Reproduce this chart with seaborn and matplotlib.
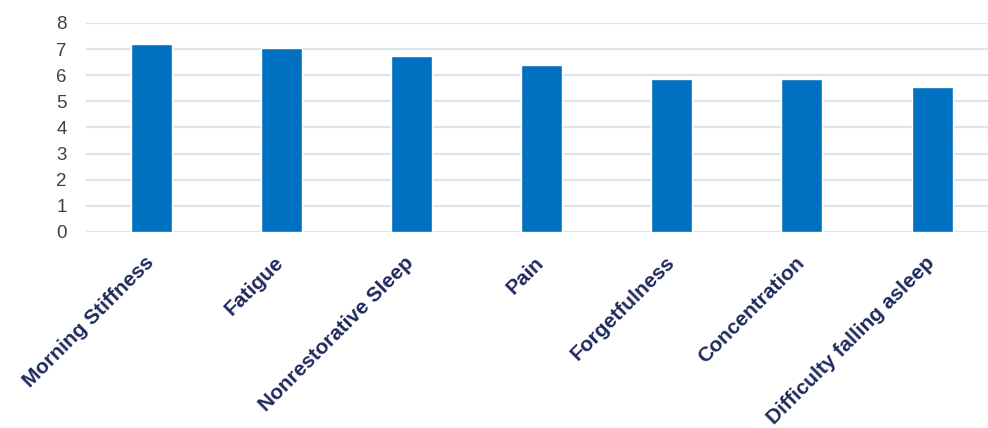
import matplotlib
matplotlib.use("Agg")
import matplotlib.pyplot as plt
import matplotlib.transforms as mtransforms
import seaborn as sns
import pandas as pd

# Symptom severity scores
symptoms = [
    "Morning Stiffness",
    "Fatigue",
    "Nonrestorative Sleep",
    "Pain",
    "Forgetfulness",
    "Concentration",
    "Difficulty falling asleep",
]
scores = [7.2, 7.05, 6.75, 6.38, 5.85, 5.85, 5.55]
y_ticks = [0, 1, 2, 3, 4, 5, 6, 7, 8]

bar_color = "#0070c0"
grid_color = "#dde5ec"
label_color = "#1f2a5c"
tick_color = "#404040"


def generate_figure():
    df = pd.DataFrame({"Symptom": symptoms, "Score": scores})

    sns.set_theme(style="white")
    plt.rcParams["font.family"] = ["Liberation Sans", "DejaVu Sans"]

    fig = plt.figure(figsize=(9.88, 4.28), dpi=100)
    ax = fig.add_axes([86 / 988, 1 - 232 / 428, 1 - 86 / 988, (232 - 23) / 428])

    sns.barplot(data=df, x="Symptom", y="Score", color=bar_color,
                width=0.315, saturation=1, ax=ax, zorder=3)

    ax.set_ylim(0, 8)
    ax.set_xlim(-0.5, 6.43)
    ax.set_yticks(y_ticks)
    ax.set_yticklabels([str(t) for t in y_ticks])
    ax.yaxis.grid(True, color=grid_color, linewidth=1.6, zorder=0)
    ax.xaxis.grid(False)
    ax.set_axisbelow(True)

    ax.set_xlabel("")
    ax.set_ylabel("")
    for side in ["top", "right", "left", "bottom"]:
        ax.spines[side].set_visible(False)

    ax.tick_params(axis="y", length=0, pad=14, labelsize=13.5, labelcolor=tick_color)
    ax.tick_params(axis="x", length=0, pad=15)
    shift = mtransforms.ScaledTranslation(-5 / 72, 0, fig.dpi_scale_trans)
    for lab in ax.get_xticklabels():
        lab.set_rotation(45)
        lab.set_ha("right")
        lab.set_rotation_mode("anchor")
        lab.set_fontsize(15)
        lab.set_fontweight("bold")
        lab.set_color(label_color)
        lab.set_transform(lab.get_transform() + shift)

    fig.savefig("out.png", dpi=100)
    plt.close(fig)


if __name__ == "__main__":
    generate_figure()
